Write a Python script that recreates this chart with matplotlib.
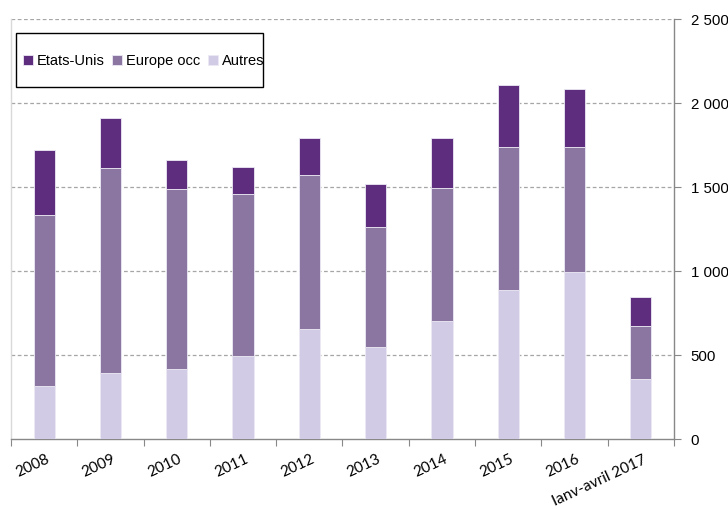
import matplotlib
matplotlib.use("Agg")
import matplotlib.pyplot as plt
from matplotlib.patches import Rectangle
import numpy as np

categories = ["2008", "2009", "2010", "2011", "2012", "2013", "2014", "2015", "2016", "Ianv-avril 2017"]
autres = [317, 394, 420, 495, 656, 551, 706, 888, 995, 357]
europe = [1016, 1220, 1067, 964, 916, 714, 787, 853, 744, 317]
etats_unis = [389, 295, 174, 163, 222, 252, 297, 368, 345, 174]
yticks = [0, 500, 1000, 1500, 2000, 2500]
ytick_labels = ["0", "500", "1 000", "1 500", "2 000", "2 500"]

c_us = "#5f2d7e"
c_eu = "#8b76a2"
c_au = "#d1cbe5"

W, H = 728, 509
fig = plt.figure(figsize=(W/100, H/100), dpi=100)
ax = fig.add_axes([11/W, 1-439.3/H, (674-11)/W, (439.3-19)/H])

x = np.arange(len(categories))
w = 0.32
a = np.array(autres); e = np.array(europe); u = np.array(etats_unis)
ax.bar(x, a, w, color=c_au, edgecolor="#ece9f4", linewidth=0.6, label="Autres", zorder=3)
ax.bar(x, e, w, bottom=a, color=c_eu, edgecolor="#ece9f4", linewidth=0.6, label="Europe occ", zorder=3)
ax.bar(x, u, w, bottom=a+e, color=c_us, edgecolor="#ece9f4", linewidth=0.6, label="Etats-Unis", zorder=3)

ax.set_xlim(-0.5, len(categories)-0.5)
ax.set_ylim(0, 2500)

ax.yaxis.tick_right()
ax.set_yticks(yticks)
ax.set_yticklabels(ytick_labels, fontsize=10.8, family="Liberation Sans")
ax.tick_params(axis="y", direction="out", length=5, color="#888888", pad=7)
for yv in yticks[1:]:
    ax.axhline(yv, color="#a6a6a6", linestyle=(0, (3, 2)), linewidth=0.9, zorder=1)

ax.set_xticks(np.arange(-0.5, len(categories)), minor=False)
ax.set_xticklabels([])
ax.tick_params(axis="x", direction="out", length=5, color="#888888")
for xi, lab in zip(x, categories):
    ax.annotate(lab, xy=(xi, 0), xycoords=("data", "axes fraction"),
                xytext=(1, -9.5), textcoords="offset points",
                rotation=25, ha="right", va="top", rotation_mode="anchor",
                fontsize=11, family="Lato", color="#000000")

ax.spines["top"].set_visible(False)
ax.spines["left"].set_color("#d9d9d9")
ax.spines["right"].set_color("#888888")
ax.spines["bottom"].set_color("#888888")
for s in ["left", "right", "bottom"]:
    ax.spines[s].set_linewidth(1.0)

# legend frame drawn in figure pixels
fig.patches.append(Rectangle((15.7/W, 1-87/H), (263-15.7)/W, (87-32.7)/H,
                             transform=fig.transFigure, fill=False,
                             edgecolor="#000000", linewidth=1.0, zorder=5))

handles, labels = ax.get_legend_handles_labels()
order = [2, 1, 0]
leg = fig.legend([handles[i] for i in order], [labels[i] for i in order],
                 loc="center left", bbox_to_anchor=(23.3/W, 1-61/H), ncol=3,
                 frameon=False,
                 prop={"family": "Liberation Sans", "size": 10.5},
                 handlelength=0.68, handleheight=0.68, handletextpad=0.27,
                 columnspacing=0.5, borderpad=0.0, borderaxespad=0)

fig.savefig("out.png", dpi=100)
